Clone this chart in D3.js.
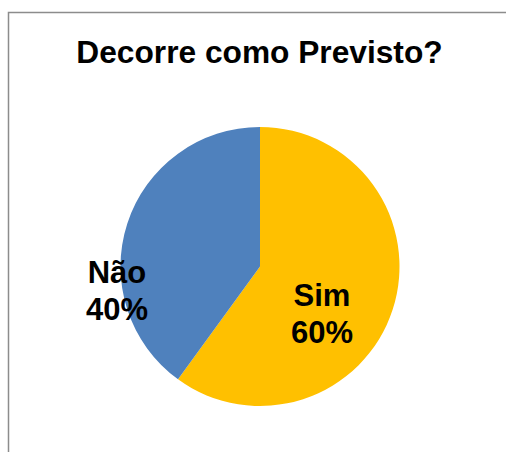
<!DOCTYPE html>
<html>
<head>
<meta charset="utf-8">
<script src="https://cdn.jsdelivr.net/npm/d3@7"></script>
<style>
  html, body { margin: 0; padding: 0; background: #fff; overflow: hidden; }
  svg { display: block; }
</style>
</head>
<body>
<svg id="chart" width="506" height="452"></svg>
<script>
const title = "Decorre como Previsto?";
const categories = ["Sim", "Não"];
const values = [60, 40];
const colors = ["#FFC000", "#4F81BD"];

const svg = d3.select("#chart");
const W = 506, H = 452;
const font = "'Liberation Sans', Arial, sans-serif";

// chart frame (only left and top edges fall inside the picture)
svg.append("path")
  .attr("d", `M8.5,${H}V12.5H${W}`)
  .attr("fill", "none")
  .attr("stroke", "#8c8c8c")
  .attr("stroke-width", 1.5);

svg.append("text")
  .attr("x", 259.5).attr("y", 62.5)
  .attr("text-anchor", "middle")
  .attr("font-family", font)
  .attr("font-weight", "bold")
  .attr("font-size", 31.7)
  .attr("fill", "#000")
  .text(title);

const cx = 260, cy = 266.5, r = 139.5;
const data = categories.map((c, i) => ({ cat: c, value: values[i], color: colors[i] }));
const pie = d3.pie().sort(null).value(d => d.value);
const arcs = pie(data);
const arc = d3.arc().innerRadius(0).outerRadius(r);

const g = svg.append("g").attr("transform", `translate(${cx},${cy})`);
g.selectAll("path").data(arcs).enter().append("path")
  .attr("d", arc)
  .attr("fill", d => d.data.color);

const total = d3.sum(values);
const labelPos = [[62, 58], [-143, 34.5]];
arcs.forEach((a, i) => {
  const pos = labelPos[i];
  const t = g.append("text")
    .attr("text-anchor", "middle")
    .attr("font-family", font)
    .attr("font-weight", "bold")
    .attr("font-size", 31)
    .attr("fill", "#000")
    .attr("transform", `translate(${pos[0]},${pos[1]})`);
  t.append("tspan").attr("x", 0).attr("y", -18.5).text(a.data.cat);
  t.append("tspan").attr("x", 0).attr("y", 18.5)
    .text(Math.round(a.data.value / total * 100) + "%");
});
</script>
</body>
</html>
